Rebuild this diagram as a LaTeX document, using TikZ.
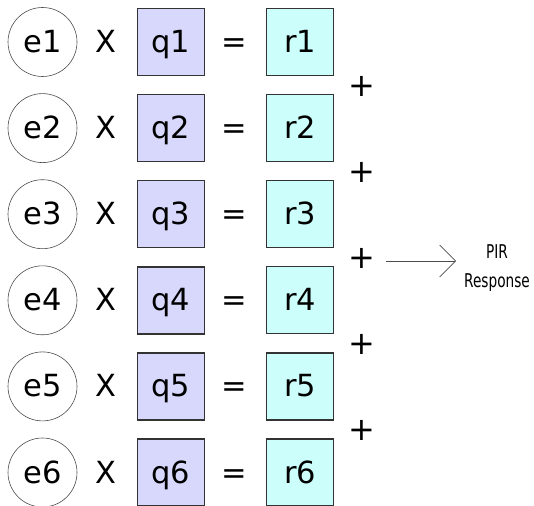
\documentclass[tikz,border=0pt]{standalone}
\usepackage{fontspec}
\setmainfont{DejaVu Sans}
\newfontfamily\condfont{DejaVu Sans Condensed}
\usetikzlibrary{arrows.meta}
\definecolor{qfill}{RGB}{216,216,252}
\definecolor{rfill}{RGB}{204,255,252}
\definecolor{edge}{RGB}{51,51,51}
\begin{document}
\begin{tikzpicture}[x=1pt,y=-1pt,
  bigtext/.style={font=\fontsize{30.5}{32}\selectfont,text height=21pt,text depth=0pt},
  keynode/.style={circle,draw=black!70,line width=0.6pt,minimum size=69pt,inner sep=0pt,bigtext},
  opnode/.style={inner sep=0pt,bigtext},
  qbox/.style={draw=edge,line width=1.4pt,fill=qfill,minimum size=67pt,inner sep=0pt,bigtext},
  rbox/.style={draw=edge,line width=1.2pt,fill=rfill,minimum size=67pt,inner sep=0pt,bigtext},
  plusnode/.style={inner sep=0pt,font=\fontsize{32}{34}\selectfont},
  outlabel/.style={align=center,inner sep=0pt,font=\condfont\fontsize{19}{29}\selectfont}]
\useasboundingbox (0,0) rectangle (534,505);
\clip (0,0) rectangle (534,505);
% one row per element: key x query = result
\foreach \i in {1,...,6}{
  \pgfmathsetmacro{\yy}{42+86.1*(\i-1)}
  \node[keynode] (e\i) at (42.5,\yy) {e\i};
  \node[opnode] (x\i) at (106,\yy) {X};
  \node[qbox] (q\i) at (171,\yy) {q\i};
  \node[opnode] (eq\i) at (234,\yy) {=};
  \node[rbox] (r\i) at (300,\yy) {r\i};
}
% sums between consecutive results
\foreach \i in {1,...,5}{
  \pgfmathsetmacro{\yy}{86+86.1*(\i-1)}
  \node[plusnode] (p\i) at (362,\yy) {+};
}
\node[outlabel] (pir) at (497,268) {\scalebox{0.8}[1]{PIR}\\\scalebox{0.8}[1]{Response}};
% total goes out as the response
\coordinate (a0) at (386,261);
\coordinate (a1) at (456,261);
\draw[black!70,line width=0.6pt,-{Straight Barb[length=16pt,width=32pt,line width=0.6pt]}] (a0) -- (a1);
\end{tikzpicture}
\end{document}
